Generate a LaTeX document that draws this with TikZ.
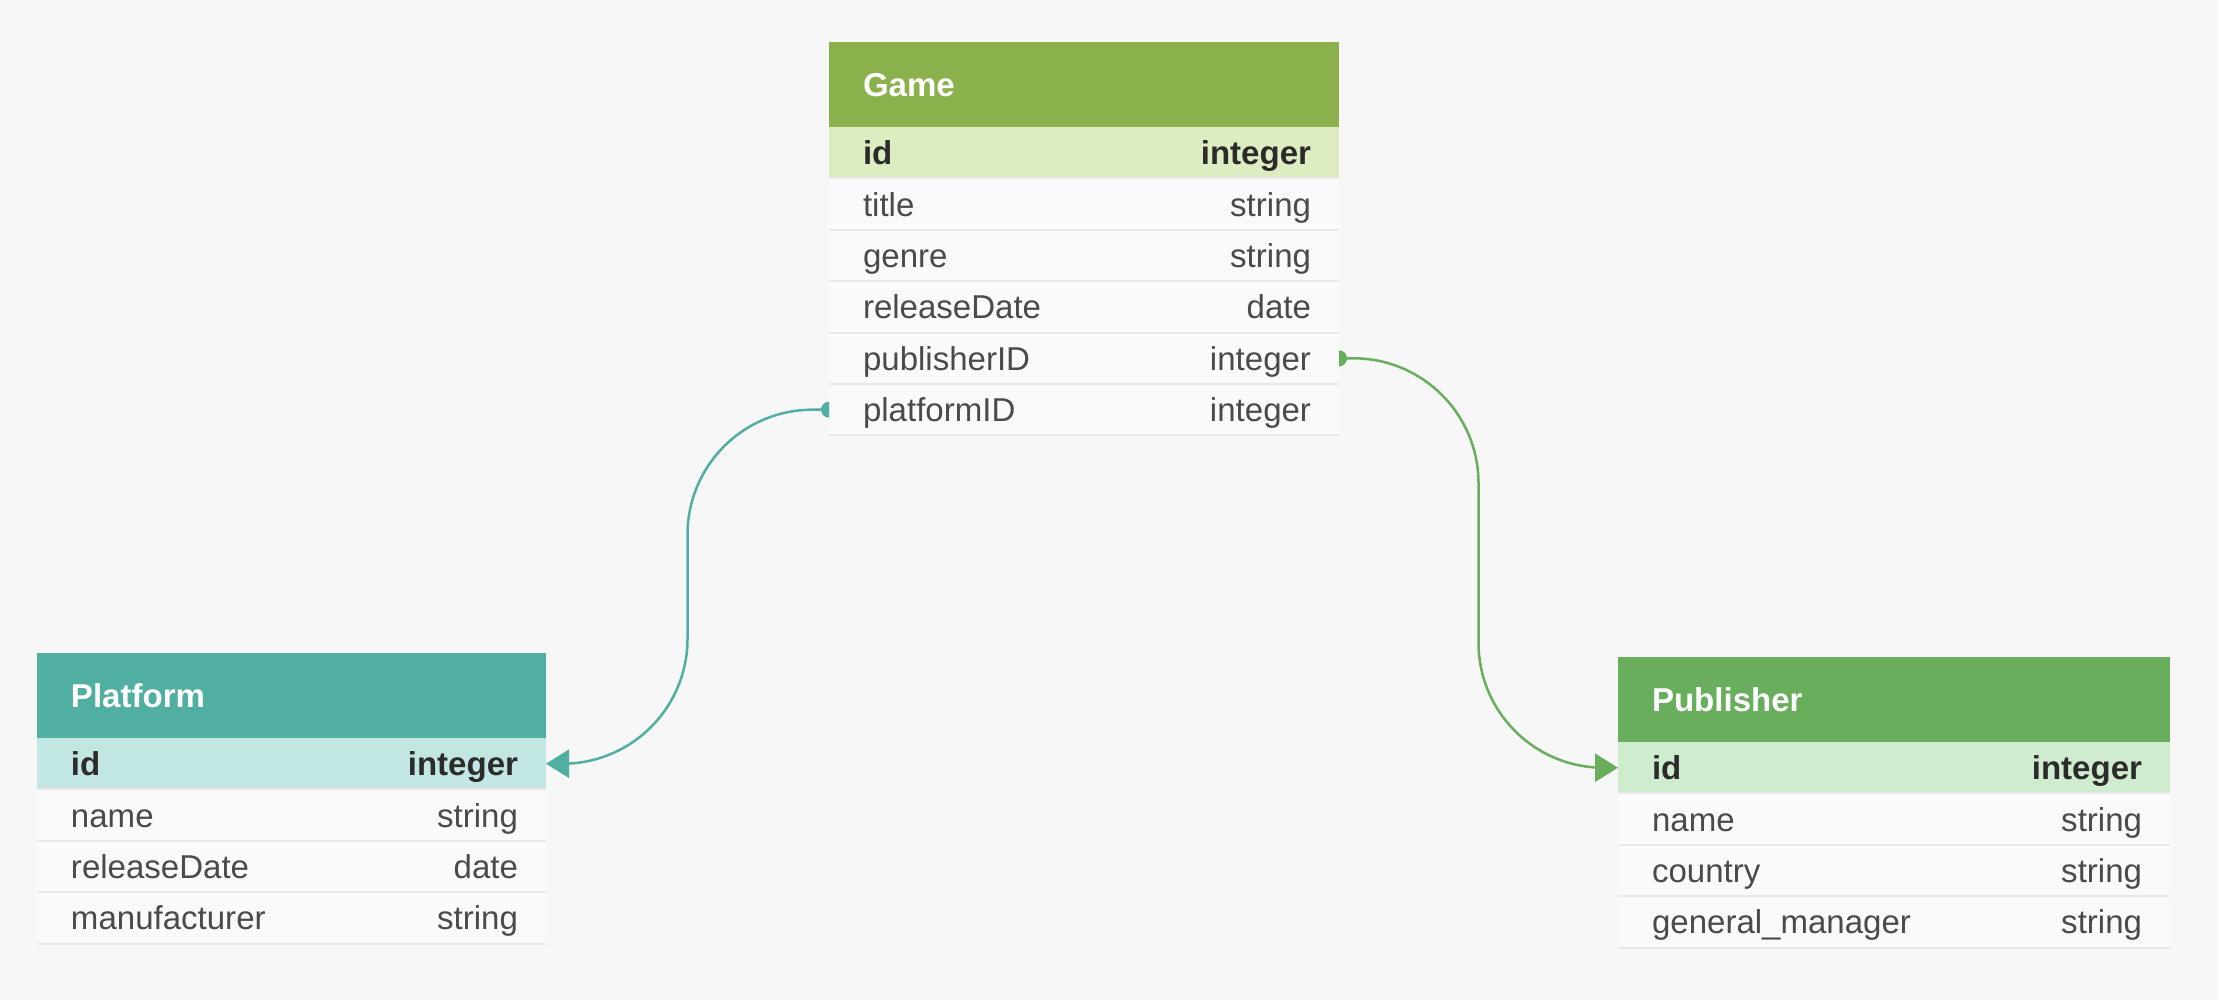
\documentclass[tikz,border=0pt]{standalone}
\usepackage{fontspec}
\setmainfont{Liberation Sans}
\usetikzlibrary{positioning,arrows.meta,calc}
\usepackage{xcolor}

\definecolor{pagebg}{HTML}{F7F7F7}
\definecolor{rowbg}{HTML}{FAFAFA}
\definecolor{rowsep}{HTML}{E8E8E8}
\definecolor{fieldtxt}{HTML}{4A4A4A}
\definecolor{keytxt}{HTML}{2B2B2B}
\definecolor{gamehead}{HTML}{8BB14C}
\definecolor{gamekey}{HTML}{DDEDC1}
\definecolor{platformhead}{HTML}{50AFA1}
\definecolor{platformkey}{HTML}{C2E7E2}
\definecolor{publisherhead}{HTML}{68AE5C}
\definecolor{publisherkey}{HTML}{D0ECCF}

\newlength{\tblw}
\newcommand{\fld}[2]{\makebox[\tblw]{\hspace{3.4mm}#1\hfill#2\hspace{2.8mm}}}
\newcommand{\tblfont}{\fontsize{9.4}{11}\selectfont}

\tikzset{
  tblhead/.style={rectangle,anchor=north west,fill=#1,text=white,font=\bfseries\tblfont,
    inner sep=0pt,outer sep=0pt,minimum height=8.5mm,text height=2.4mm,text depth=0pt},
  keyrow/.style={rectangle,fill=#1,text=keytxt,font=\bfseries\tblfont,
    inner sep=0pt,outer sep=0pt,minimum height=5.14mm,text height=2.4mm,text depth=0pt},
  fieldrow/.style={rectangle,fill=rowbg,text=fieldtxt,font=\tblfont,
    inner sep=0pt,outer sep=0pt,minimum height=5.14mm,text height=2.4mm,text depth=0pt},
  sepline/.style={draw=rowsep,line width=0.2mm},
  fklink/.style={draw=#1,line width=0.25mm,rounded corners=12.5mm,-{Triangle[length=2.3mm,width=2.8mm]}},
}

\begin{document}
\begin{tikzpicture}[x=0.1mm,y=-0.1mm,node distance=0pt]

\fill[pagebg] (0,0) rectangle (2218,1000);

% Game
\setlength{\tblw}{51mm}
\node[tblhead=gamehead] at (829,42) (game) {\makebox[\tblw][l]{\hspace{3.4mm}Game}};
\node[keyrow=gamekey,below=of game] (game-id) {\fld{id}{integer}};
\node[fieldrow,below=of game-id] (game-title) {\fld{title}{string}};
\node[fieldrow,below=of game-title] (game-genre) {\fld{genre}{string}};
\node[fieldrow,below=of game-genre] (game-releaseDate) {\fld{releaseDate}{date}};
\node[fieldrow,below=of game-releaseDate] (game-publisherID) {\fld{publisherID}{integer}};
\node[fieldrow,below=of game-publisherID] (game-platformID) {\fld{platformID}{integer}};

% Platform
\setlength{\tblw}{50.9mm}
\node[tblhead=platformhead] at (37,653) (platform) {\makebox[\tblw][l]{\hspace{3.4mm}Platform}};
\node[keyrow=platformkey,below=of platform] (platform-id) {\fld{id}{integer}};
\node[fieldrow,below=of platform-id] (platform-name) {\fld{name}{string}};
\node[fieldrow,below=of platform-name] (platform-releaseDate) {\fld{releaseDate}{date}};
\node[fieldrow,below=of platform-releaseDate] (platform-manufacturer) {\fld{manufacturer}{string}};

% Publisher
\setlength{\tblw}{55.2mm}
\node[tblhead=publisherhead] at (1618,657) (publisher) {\makebox[\tblw][l]{\hspace{3.4mm}Publisher}};
\node[keyrow=publisherkey,below=of publisher] (publisher-id) {\fld{id}{integer}};
\node[fieldrow,below=of publisher-id] (publisher-name) {\fld{name}{string}};
\node[fieldrow,below=of publisher-name] (publisher-country) {\fld{country}{string}};
\node[fieldrow,below=of publisher-country] (publisher-manager) {\fld{general\_manager}{string}};

% row separators
\foreach \r in {game-id,game-title,game-genre,game-releaseDate,game-publisherID,game-platformID,
  platform-id,platform-name,platform-releaseDate,platform-manufacturer,
  publisher-id,publisher-name,publisher-country,publisher-manager}
  \draw[sepline] (\r.south west) -- (\r.south east);

% foreign keys
\coordinate (platform-mid) at ($(game-platformID.west)!0.5!(platform-id.east)$);
\coordinate (publisher-mid) at ($(game-publisherID.east)!0.5!(publisher-id.west)$);

\draw[fklink=platformhead] (game-platformID.west)
  -| (platform-mid |- platform-id.east) -- (platform-id.east);
\fill[platformhead] (game-platformID.west) ++(0,8) arc[start angle=90,end angle=270,radius=8] -- cycle;

\draw[fklink=publisherhead] (game-publisherID.east)
  -| (publisher-mid |- publisher-id.west) -- (publisher-id.west);
\fill[publisherhead] (game-publisherID.east) ++(0,-8) arc[start angle=-90,end angle=90,radius=8] -- cycle;

\end{tikzpicture}
\end{document}
